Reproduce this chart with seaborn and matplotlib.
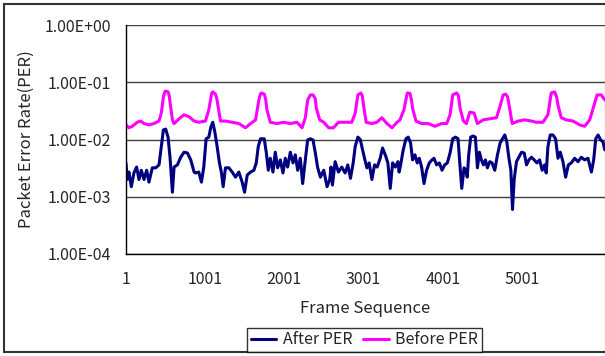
import pandas as pd
import seaborn as sns
import matplotlib.pyplot as plt
from matplotlib.lines import Line2D
from matplotlib.patches import Rectangle

# values
before_frame = [1, 38, 80, 143, 186, 228, 291, 354, 418, 447, 473, 490, 502, 532, 545, 557, 587, 608, 671, 734,
                798, 861,
                920, 1004, 1047, 1068, 1085, 1097, 1131, 1150, 1165, 1194, 1257, 1342, 1426, 1510, 1574, 1637,
                1679, 1700, 1713,
                1747, 1765, 1781, 1823, 1907, 1992, 2076, 2160, 2224, 2266, 2295, 2329, 2363, 2390, 2405, 2447,
                2498, 2561,
                2620, 2684, 2768, 2853, 2895, 2929, 2967, 2985, 3000, 3034, 3106, 3169, 3233, 3296, 3360, 3423,
                3460, 3511, 3553, 3587, 3605, 3620, 3663, 3734, 3818, 3903, 3987, 4051, 4093, 4127, 4177, 4200,
                4220, 4262,
                4300, 4342, 4397, 4439, 4511, 4595, 4679, 4722, 4764, 4797, 4820, 4835, 4878, 4954, 5038, 5122,
                5181, 5266, 5329, 5371, 5414, 5440, 5456, 5498, 5561, 5646, 5730, 5793, 5857, 5912, 5950, 6004,
                6047]
before_per = [0.018, 0.016, 0.017, 0.020, 0.021, 0.019, 0.018, 0.019, 0.021, 0.029, 0.055, 0.068, 0.070, 0.068,
              0.060, 0.045, 0.022, 0.019, 0.023, 0.027, 0.025, 0.021,
              0.020, 0.021, 0.033, 0.049, 0.065, 0.068, 0.062, 0.050, 0.037, 0.021, 0.021, 0.020, 0.019, 0.016,
              0.019, 0.022, 0.049, 0.063, 0.065,
              0.062, 0.050, 0.033, 0.020, 0.019, 0.020, 0.019, 0.020, 0.016, 0.024, 0.049, 0.060, 0.060, 0.052,
              0.035, 0.022, 0.020, 0.016,
              0.016, 0.020, 0.020, 0.020, 0.029, 0.060, 0.065, 0.058, 0.040, 0.020, 0.019, 0.020, 0.024, 0.019,
              0.016, 0.020,
              0.022, 0.033, 0.065, 0.064, 0.050, 0.035, 0.021, 0.019, 0.019, 0.017, 0.019, 0.019, 0.027, 0.060,
              0.065, 0.058, 0.035, 0.021,
              0.019, 0.030, 0.029, 0.019, 0.022, 0.023, 0.024, 0.037, 0.060, 0.062, 0.055, 0.043, 0.019, 0.021,
              0.022, 0.021,
              0.020, 0.020, 0.027, 0.065, 0.068, 0.055, 0.040, 0.024, 0.022, 0.021, 0.018, 0.017, 0.022, 0.040,
              0.060, 0.060, 0.049]

after_frame = [1, 17, 38, 68, 101, 135, 165, 194, 228, 262, 291, 333, 376, 418, 447, 473, 502, 532, 557, 587,
               608, 650, 692, 734, 777, 819, 861, 878, 920, 954, 983, 1013, 1047, 1072, 1097, 1123, 1152, 1181,
               1207, 1228, 1257, 1300, 1342, 1384, 1426, 1468, 1498, 1532, 1574, 1616, 1646, 1671, 1700, 1717,
               1747, 1772, 1798, 1823, 1857, 1886, 1916, 1950, 1983, 2013, 2042, 2076, 2110, 2139, 2169, 2202,
               2232, 2261, 2295, 2329, 2363, 2392, 2422, 2456, 2498, 2540, 2574, 2590, 2608, 2642, 2684, 2726,
               2768, 2802, 2836, 2870, 2895, 2929, 2959, 2988, 3013, 3043, 3072, 3106, 3140, 3173, 3211, 3241,
               3275, 3308, 3338, 3368, 3402, 3435, 3450, 3469, 3502, 3536, 3565, 3595, 3620, 3650, 3679, 3705,
               3734, 3764, 3797, 3831, 3865, 3890, 3924, 3958, 3992, 4025, 4059, 4093, 4127, 4161, 4194, 4220,
               4241, 4270, 4296, 4310, 4329, 4354, 4384, 4413, 4439, 4464, 4489, 4515, 4540, 4565, 4595, 4624,
               4658, 4692, 4726, 4755, 4785, 4810, 4835, 4861, 4882, 4903, 4932, 4962, 4996, 5030, 5059, 5089,
               5122, 5156, 5190, 5224, 5257, 5287, 5308, 5329, 5359, 5392, 5426, 5456, 5485, 5519, 5553, 5587,
               5624, 5667, 5709, 5751, 5793, 5835, 5878, 5907, 5933, 5962, 5996, 6025, 6047]
after_per = [0.0039, 0.0020, 0.0027, 0.0015, 0.0026, 0.0033, 0.0020, 0.0029, 0.0020, 0.0029, 0.0018, 0.0032,
             0.0032, 0.0036, 0.0075, 0.0147, 0.0152, 0.011, 0.0049, 0.0012,
             0.0033, 0.0036, 0.0049, 0.0060, 0.0058, 0.0044, 0.0027, 0.0026, 0.0027, 0.0018, 0.0033, 0.0103,
             0.011, 0.0164, 0.020, 0.0135, 0.0075, 0.0039,
             0.0026, 0.0015, 0.0032, 0.0032, 0.0027, 0.0022, 0.0027, 0.0018, 0.0012, 0.0024, 0.0027, 0.0029,
             0.0039, 0.0075, 0.0103, 0.0103,
             0.0103, 0.0060, 0.0029, 0.0047, 0.0027, 0.0060, 0.0032, 0.0044, 0.0026, 0.0047, 0.0033, 0.0060,
             0.0039, 0.0054, 0.0029, 0.0047,
             0.0017, 0.0039, 0.0098, 0.0103, 0.0098, 0.0058, 0.0032, 0.0022, 0.0029, 0.0015, 0.0020, 0.0033,
             0.0016, 0.0041, 0.0027, 0.0033,
             0.0026, 0.0036, 0.0021, 0.0039, 0.0075, 0.011, 0.010, 0.0066, 0.0047, 0.0032, 0.0039, 0.0020,
             0.0036, 0.0033, 0.0047, 0.0071,
             0.0054, 0.0039, 0.0014, 0.0039, 0.0033, 0.0041, 0.0027, 0.0036, 0.0066, 0.0103, 0.011, 0.0087,
             0.0044, 0.0054, 0.0039, 0.0047,
             0.0033, 0.0017, 0.0029, 0.0039, 0.0044, 0.0047, 0.0036, 0.0039, 0.0029, 0.0036, 0.0039, 0.0058,
             0.0103, 0.011, 0.0103, 0.0033,
             0.0014, 0.0032, 0.0029, 0.0022, 0.0054, 0.011, 0.0115, 0.011, 0.0032, 0.0060, 0.0044, 0.0036,
             0.0044, 0.0032, 0.0041, 0.0039,
             0.0029, 0.0054, 0.0087, 0.0103, 0.012, 0.0091, 0.0049, 0.0029, 0.00060, 0.0020, 0.0041, 0.0049,
             0.0060, 0.0058, 0.0036, 0.0044,
             0.0049, 0.0044, 0.0039, 0.0044, 0.0029, 0.0036, 0.0026, 0.0075, 0.012, 0.012, 0.0103, 0.0047,
             0.0060, 0.0041, 0.0022, 0.0036,
             0.0039, 0.0047, 0.0041, 0.0049, 0.0044, 0.0047, 0.0027, 0.0044, 0.0103, 0.012, 0.0098, 0.0091,
             0.0066]

y_ticks = [1, 0.1, 0.01, 0.001, 0.0001]
y_labels = ["1.00E+00", "1.00E-01", "1.00E-02", "1.00E-03", "1.00E-04"]
x_ticks = [1, 1001, 2001, 3001, 4001, 5001]
x_minor = [501, 1501, 2501, 3501, 4501, 5501]

series = ["After PER", "Before PER"]
colors = {"After PER": "#000080", "Before PER": "#ff00ff"}

df = pd.concat([
    pd.DataFrame({"frame": after_frame, "per": after_per, "series": "After PER"}),
    pd.DataFrame({"frame": before_frame, "per": before_per, "series": "Before PER"}),
])

sns.set_style("white")
plt.rcParams['font.family'] = ['Noto Sans CJK JP', 'DejaVu Sans']

fig = plt.figure(figsize=(6.05, 3.56), dpi=100)
ax = fig.add_axes([126 / 605, 1 - 254 / 356, 479 / 605, 229 / 356])

sns.lineplot(data=df, x="frame", y="per", hue="series", hue_order=series, palette=colors,
             linewidth=2.2, estimator=None, sort=False, legend=False, ax=ax)

ax.set_yscale("log")
ax.set_ylim(1e-4, 1)
ax.set_xlim(1, 6050)
ax.set_yticks(y_ticks)
ax.set_yticklabels(y_labels, fontsize=11.5)
ax.yaxis.set_minor_locator(plt.NullLocator())
ax.set_xticks(x_ticks)
ax.set_xticklabels([str(t) for t in x_ticks], fontsize=11.5)
ax.set_xticks(x_minor, minor=True)
ax.tick_params(axis="x", which="both", direction="in", length=5, width=1, color="black", pad=12)
ax.tick_params(axis="y", which="both", length=0, pad=11)

for t in y_ticks:
    ax.axhline(t, color="#404040", linewidth=1, zorder=0)

for side in ["top", "right"]:
    ax.spines[side].set_visible(False)
for side in ["left", "bottom"]:
    ax.spines[side].set_color("black")
    ax.spines[side].set_linewidth(1)

ax.set_xlabel("Frame Sequence", fontsize=12, labelpad=9)
ax.set_ylabel("Packet Error Rate(PER)", fontsize=12, labelpad=7)

handles = [Line2D([], [], color=colors[s], linewidth=2.2) for s in series]
fig.legend(handles, series, loc="center", bbox_to_anchor=(364.5 / 605, 1 - 340 / 356), ncol=2,
           frameon=True, fancybox=False, edgecolor="black", fontsize=11.5, handlelength=1.6,
           columnspacing=0.7, handletextpad=0.4, borderpad=0.25, borderaxespad=0)

fig.patches.append(Rectangle((4 / 605, 4 / 356), 0.995, 348 / 356, transform=fig.transFigure,
                             fill=False, edgecolor="#333333", linewidth=1.5))

fig.savefig("out.png", dpi=100)
